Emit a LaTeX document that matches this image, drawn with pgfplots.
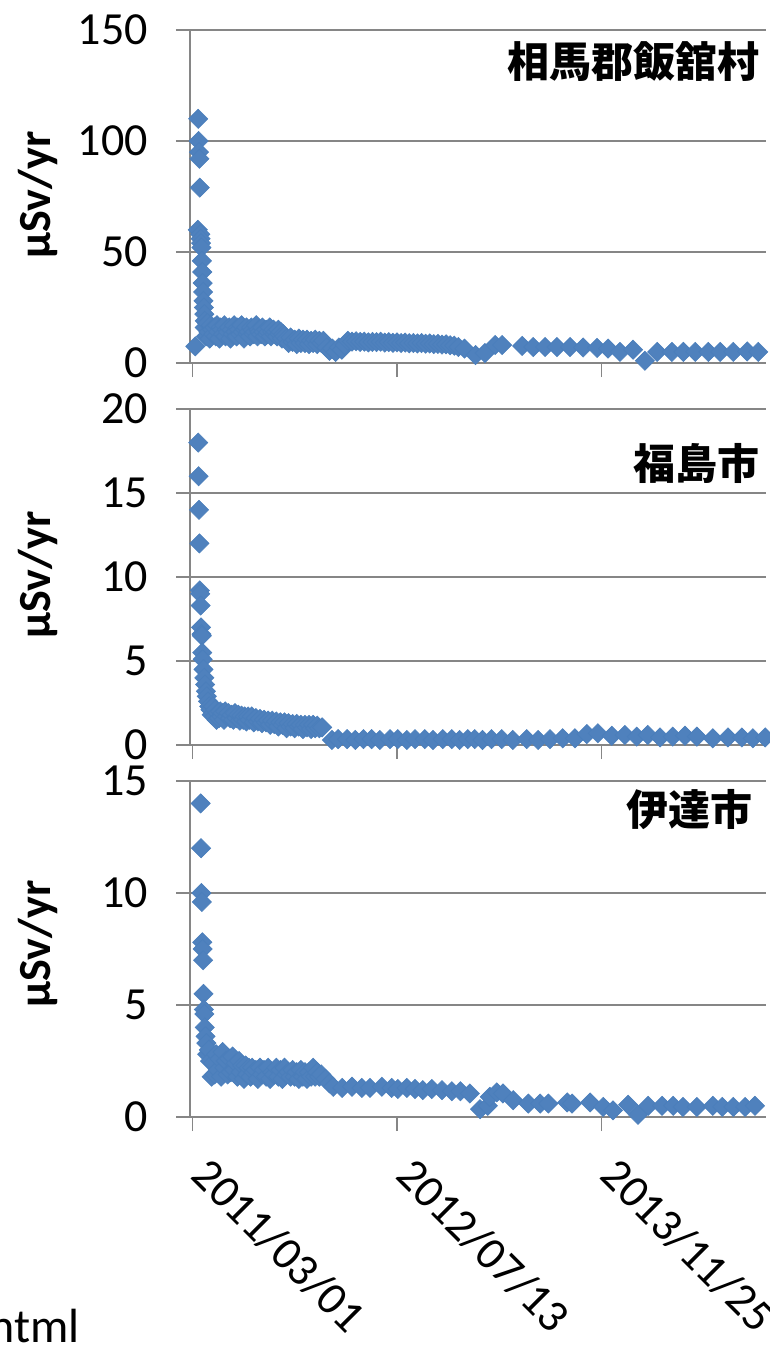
\documentclass[border=0pt]{standalone}
\usepackage{pgfplots}
\pgfplotsset{compat=1.18}
\usepackage{fontspec}
\setmainfont{Carlito}
\newfontfamily\cjk{Noto Sans CJK JP}
\definecolor{gridc}{HTML}{868686}
\definecolor{mfill}{HTML}{4F81BD}
\definecolor{mdraw}{HTML}{4A7EBB}
\pgfplotsset{panel/.style={
  width=288pt, scale only axis, anchor=south west,
  xmin=-6, xmax=1402, ymin=0,
  axis x line*=bottom, axis y line*=left,
  axis line style={draw=gridc, line width=0.9pt, -},
  xtick={0,500,1000}, xticklabels={},
  tick align=outside, major tick length=7pt,
  major tick style={draw=gridc, line width=0.9pt},
  ymajorgrids, grid style={draw=gridc, line width=0.9pt},
  tick label style={font=\fontsize{23}{23}\selectfont},
  yticklabel style={anchor=east, xshift=-10.5pt},
  /pgf/number format/assume math mode=true,
  clip=false,
},
pts/.style={only marks, mark=square*, mark size=3.4pt,
  mark options={rotate=45, fill=mfill, draw=mdraw, line width=0.3pt}}
}
\begin{document}
\begin{tikzpicture}
\useasboundingbox (0,0) rectangle (385pt,-672.5pt);
% ---------------- panel 1
\begin{axis}[panel, at={(95pt,-181.5pt)}, height=166.5pt, ymax=150, ytick={0,50,100,150}]
\addplot[pts] table {
x y
7 7.5
13 60
14 110
15 100
16 95
17 92
18 79
19 58
20 56
21 54
22 52
23 46
24 41
25 36
26 32
27 28
28 25
29 22
30 19
30 16
33 12
36 18
39 14
42 11
45 17
48 15
51 13
54 16
57 12
60 17
63 14
66 11
69 16
72 15
75 13
78 17
81 12
84 15
87 14
90 16
93 11
96 15
99 13
102 17
105 14
108 12
111 16
114 15
117 13
120 17
123 14
126 11
129 15
132 16
135 13
138 14
141 12
144 16
147 15
150 13
153 14
156 17
159 12
162 15
165 14
168 13
171 16
174 14
177 12
180 15
183 13
186 14
189 16
192 12
195 14
198 15
201 13
204 14
207 12
210 15
213 13
216 14
219 11
222 13
225 12
230 11
235 9
240 11.5
245 9.5
250 10.5
255 8.5
260 11
265 9
270 10.5
275 9
280 10.5
285 8.5
290 10
295 9
300 10.5
305 8.5
310 10
315 9
320 10
328 7
335 5.5
342 6.5
350 5
358 7
365 6
372 8
380 10
390 9.6
400 9.8
410 9.5
420 9.6
430 9.3
440 9.5
450 9.4
460 9.6
470 9.2
480 9.4
490 9.1
500 9.3
510 9.0
520 9.2
530 8.9
540 9.0
550 8.8
560 9.0
570 8.7
580 8.8
590 8.5
600 8.6
610 8.3
620 8.4
630 8.0
640 7.8
650 7.2
665 6.5
692 3.6
715 4.5
740 8.1
757 8.1
806 7.7
833 7.2
862 7.2
891 7.2
923 7.2
955 7.0
989 6.8
1016 6.5
1045 5.0
1077 6.0
1106 1.0
1136 5.0
1172 5.0
1200 5.0
1229 5.0
1261 5.0
1290 5.0
1322 5.0
1356 5.2
1383 5.0
};
\end{axis}
% ---------------- panel 2
\begin{axis}[panel, at={(95pt,-372.5pt)}, height=168pt, ymax=20, ytick={0,5,10,15,20}]
\addplot[pts] table {
x y
14 18
15 16
16 14
17 12
18 9.2
19 9.0
20 8.3
21 7.0
22 6.6
23 6.5
24 5.5
25 5.1
27 4.5
29 4.0
31 3.6
33 3.2
35 2.9
38 2.6
41 2.3
44 2.1
47 1.8
50 2.3
53 1.7
56 2.1
59 1.5
62 1.9
65 1.6
68 2.0
71 1.7
74 1.9
77 1.5
80 2.0
84 1.7
88 1.9
92 1.6
96 1.8
100 1.5
104 1.9
108 1.6
112 1.8
116 1.45
120 1.75
124 1.5
128 1.7
132 1.4
136 1.7
140 1.5
145 1.7
150 1.35
155 1.6
160 1.4
165 1.55
170 1.3
175 1.5
180 1.35
185 1.45
190 1.2
195 1.45
200 1.25
205 1.4
210 1.1
215 1.35
220 1.2
225 1.35
230 1.0
235 1.3
240 1.1
245 1.25
250 1.0
255 1.25
260 1.1
265 1.2
270 0.95
275 1.2
280 1.05
285 1.2
290 0.95
295 1.2
300 1.0
305 1.15
310 1.0
317 1.05
341 0.3
356 0.35
378 0.35
398 0.3
418 0.35
438 0.35
458 0.3
483 0.35
502 0.35
524 0.3
544 0.35
568 0.35
588 0.3
612 0.35
634 0.35
653 0.3
673 0.35
690 0.35
709 0.3
731 0.35
756 0.35
783 0.3
817 0.35
845 0.3
874 0.35
905 0.4
935 0.4
964 0.65
991 0.7
1025 0.55
1057 0.6
1086 0.5
1113 0.6
1143 0.45
1174 0.5
1204 0.55
1233 0.5
1272 0.4
1309 0.45
1343 0.45
1370 0.4
1400 0.45
};
\end{axis}
% ---------------- panel 3
\begin{axis}[panel, at={(95pt,-558.5pt)}, height=168pt, ymax=15, ytick={0,5,10,15},
  xticklabels={2011/03/01,2012/07/13,2013/11/25},
  xticklabel style={xshift=10pt, yshift=-7pt, rotate=-45, anchor=north west}]
\addplot[pts] table {
x y
20 14
21 12
22 10
23 9.6
24 7.8
25 7.5
26 7.0
27 5.5
28 4.8
29 4.6
30 4.0
32 3.6
34 3.3
36 2.8
40 3.0
43 2.5
47 1.8
50 2.4
54 1.9
58 2.8
62 2.1
66 2.6
70 1.8
74 2.9
78 2.2
82 2.5
86 1.9
90 2.6
94 2.0
98 2.7
102 2.1
106 2.4
110 1.8
114 2.5
118 2.0
122 2.3
126 1.7
130 2.3
134 1.9
138 2.2
142 1.8
146 2.2
150 2.0
155 2.1
160 1.7
165 2.2
170 1.9
175 2.1
180 1.8
185 2.2
190 1.7
195 2.0
200 1.9
205 2.2
210 1.8
215 2.1
220 1.7
225 2.2
230 1.9
235 2.0
240 1.8
245 2.1
250 1.8
255 2.0
260 1.7
265 2.1
270 1.8
275 2.0
280 1.7
285 2.0
290 1.8
295 2.2
300 1.8
305 2.0
310 1.8
315 1.9
325 1.7
335 1.5
344 1.35
366 1.3
390 1.35
414 1.3
434 1.3
463 1.35
487 1.3
502 1.25
524 1.3
544 1.25
563 1.2
585 1.25
610 1.2
634 1.15
655 1.15
678 1.05
703 0.35
722 0.5
727 0.9
744 1.1
759 1.05
784 0.75
821 0.6
850 0.6
870 0.6
916 0.65
928 0.6
972 0.65
1004 0.45
1028 0.3
1065 0.55
1089 0.1
1114 0.5
1148 0.5
1175 0.5
1199 0.45
1233 0.45
1272 0.5
1295 0.45
1322 0.45
1351 0.45
1375 0.5
};
\end{axis}
% labels
\foreach \yy in {-97.5pt,-287.5pt,-472pt}{
  \node[rotate=90, font=\fontsize{23}{23}\selectfont\bfseries] at (19pt,\yy) {μSv/yr};
}
\node[anchor=east, font=\fontsize{21}{21}\selectfont\cjk\bfseries] at (383.5pt,-31pt) {相馬郡飯舘村};
\node[anchor=east, font=\fontsize{21}{21}\selectfont\cjk\bfseries] at (383.5pt,-231.5pt) {福島市};
\node[anchor=east, font=\fontsize{21}{21}\selectfont\cjk\bfseries] at (380pt,-405pt) {伊達市};
\node[anchor=base east, inner sep=0pt, font=\fontsize{24}{24}\selectfont] at (40pt,-671pt) {html};
\end{tikzpicture}
\end{document}
